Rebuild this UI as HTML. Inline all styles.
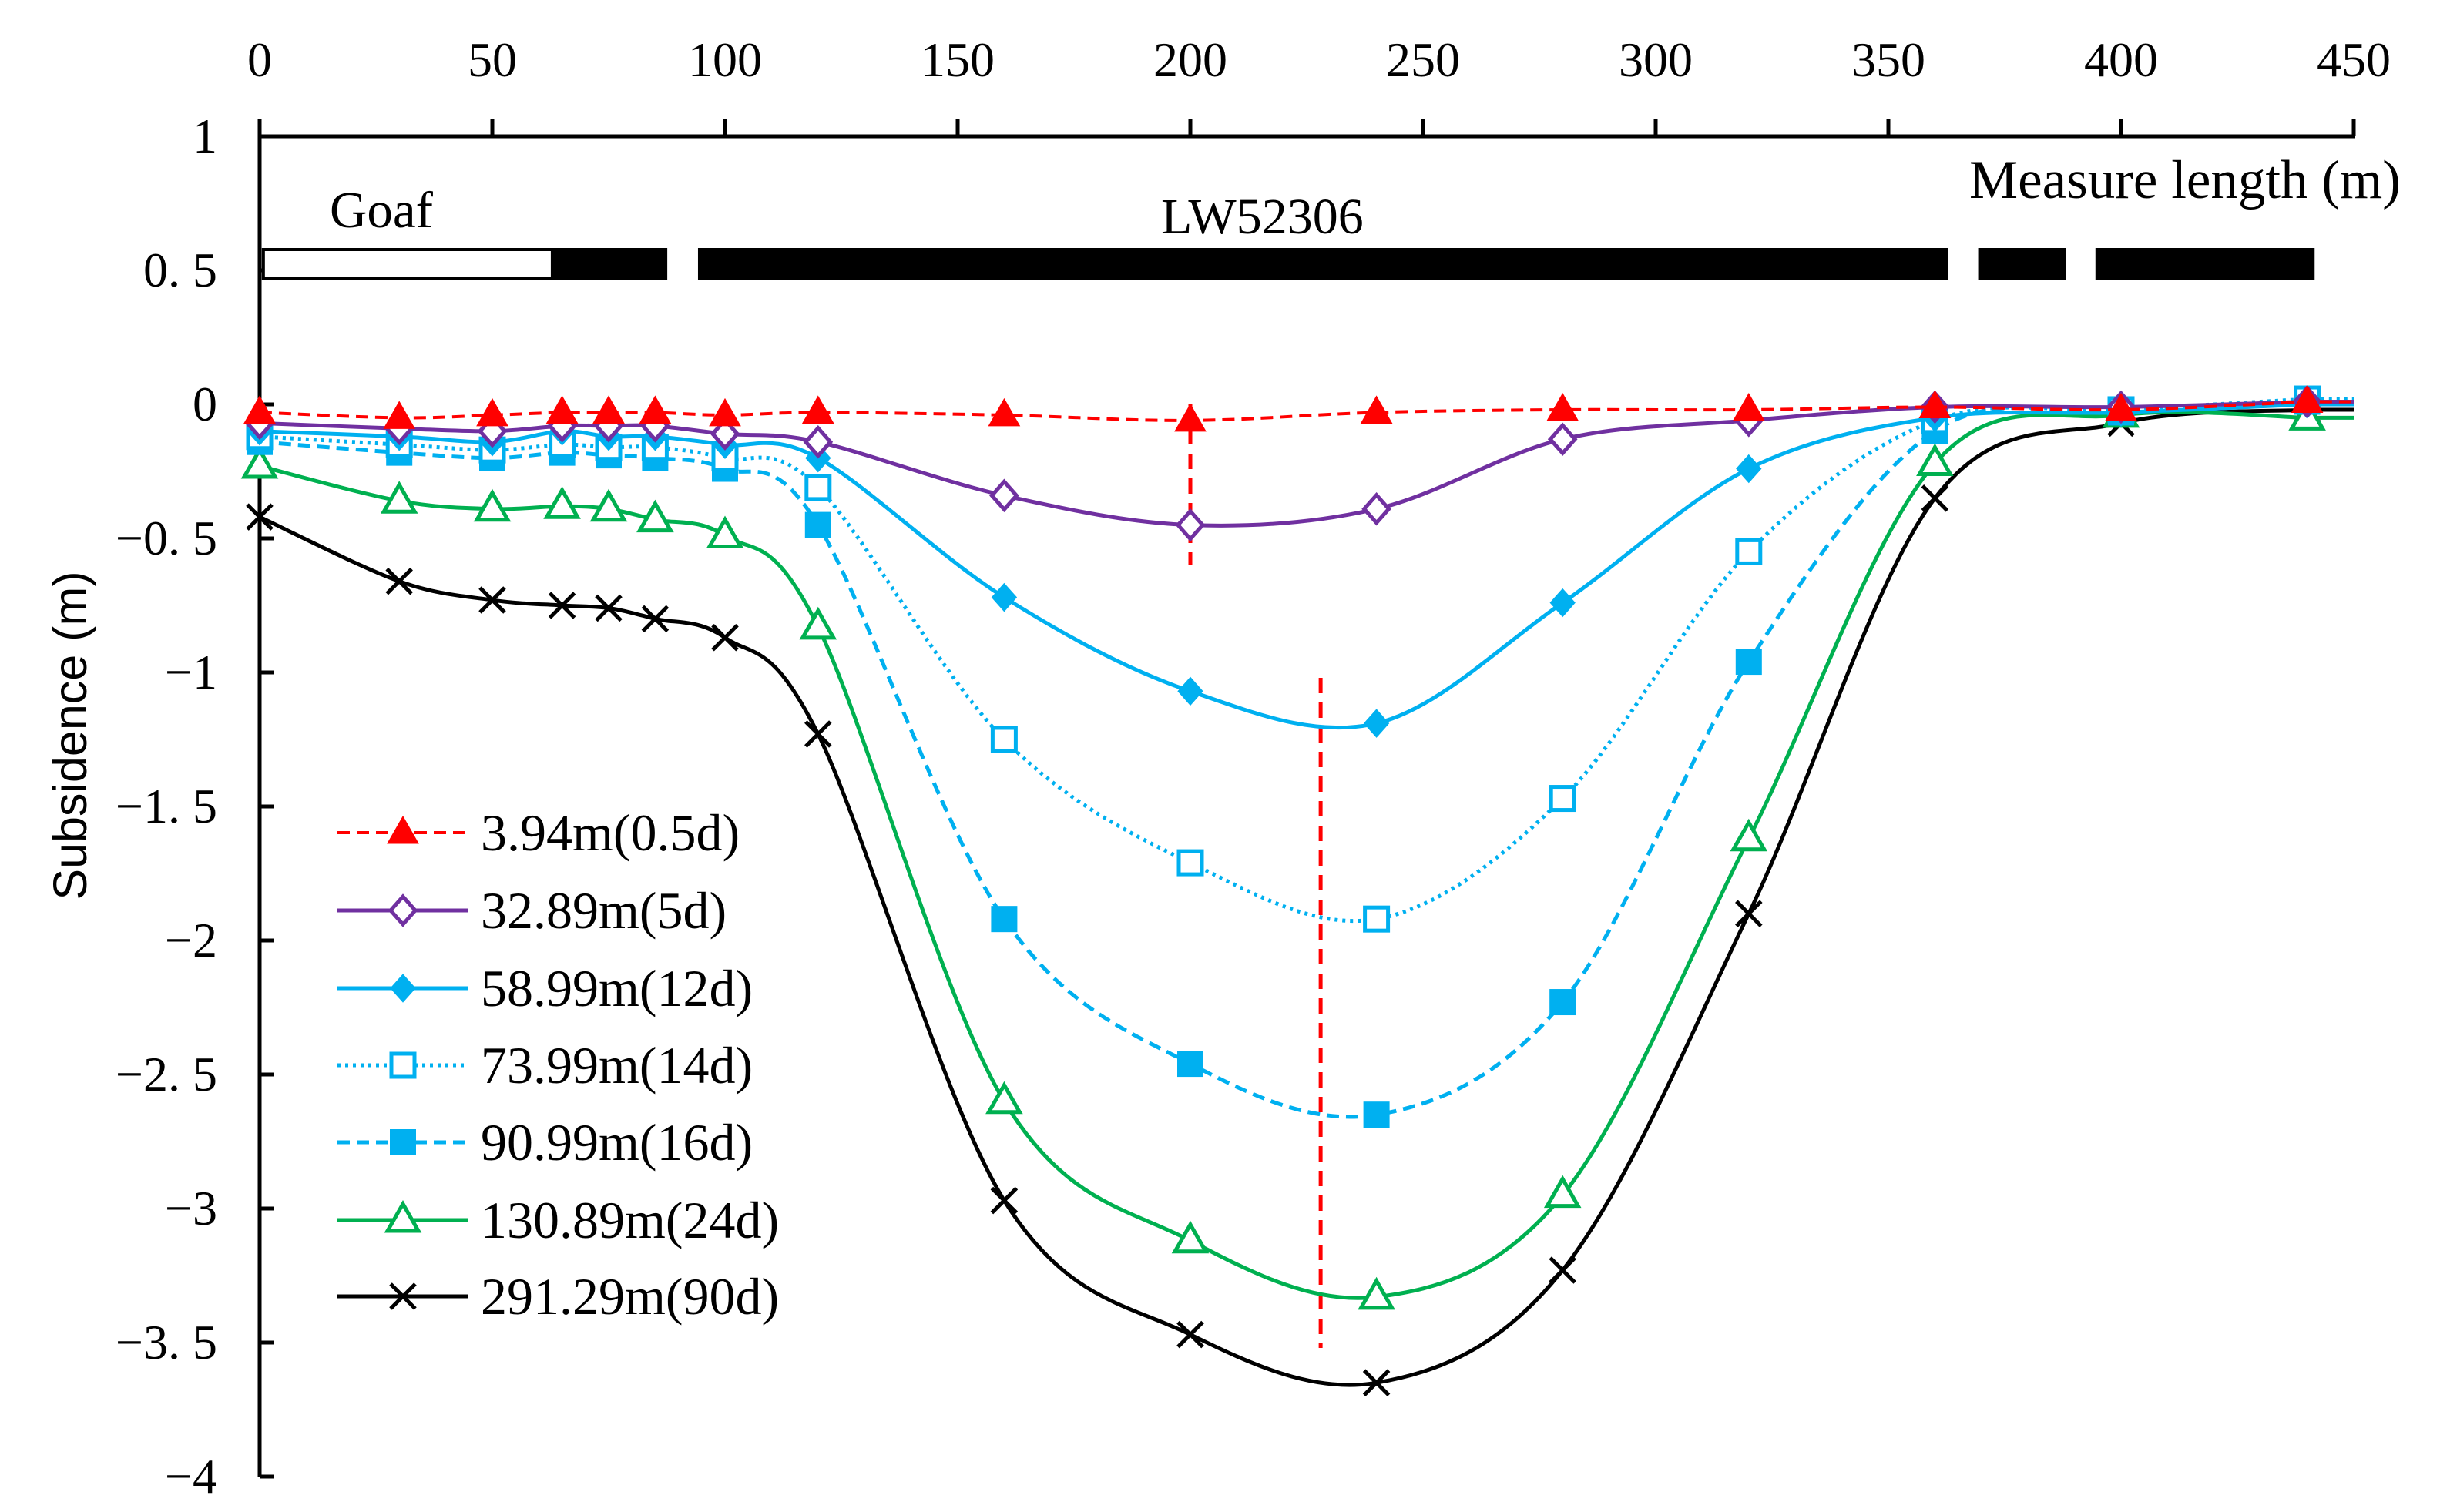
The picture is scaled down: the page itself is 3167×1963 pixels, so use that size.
<!DOCTYPE html>
<html><head><meta charset="utf-8"><style>
html,body{margin:0;padding:0;background:#fff;}
svg{display:block;font-family:"Liberation Serif",serif;}
</style></head><body>
<svg id="chart" width="3167" height="1963" viewBox="0 0 3167 1963" xmlns="http://www.w3.org/2000/svg">
<rect width="3167" height="1963" fill="#fff"/>
<g id="axes"></g>
<g id="bars"></g>
<g id="series"></g>
<g id="legend"></g>
<text x="428" y="295" font-size="67">Goaf</text>
<text x="1507" y="303" font-size="66">LW52306</text>
<text x="2556" y="257" font-size="71">Measure length (m)</text>
<text transform="translate(112,955) rotate(-90)" text-anchor="middle" font-size="61" font-family="Liberation Sans, sans-serif">Subsidence (m)</text>
</svg>
<script>
const xTicks = [0,50,100,150,200,250,300,350,400,450];
const yTicks = [1,0.5,0,-0.5,-1,-1.5,-2,-2.5,-3,-3.5,-4];
const yTickLabels = ["1","0. 5","0","\u22120. 5","\u22121","\u22121. 5","\u22122","\u22122. 5","\u22123","\u22123. 5","\u22124"];
const positions = [0,30,50,65,75,85,100,120,160,200,240,280,320,360,400,440];
const s394 = [-0.03,-0.05,-0.04,-0.03,-0.03,-0.03,-0.04,-0.03,-0.04,-0.06,-0.03,-0.02,-0.02,-0.01,-0.02,0.01];
const s3289 = [-0.07,-0.09,-0.1,-0.08,-0.08,-0.08,-0.11,-0.14,-0.34,-0.45,-0.39,-0.13,-0.06,-0.01,-0.01,0.01];
const s5899 = [-0.1,-0.12,-0.14,-0.1,-0.12,-0.12,-0.15,-0.2,-0.72,-1.07,-1.19,-0.74,-0.24,-0.05,-0.03,0.0];
const s7399 = [-0.12,-0.15,-0.17,-0.15,-0.16,-0.16,-0.2,-0.31,-1.25,-1.71,-1.92,-1.47,-0.55,-0.06,-0.02,0.02];
const s9099 = [-0.14,-0.18,-0.2,-0.18,-0.19,-0.2,-0.24,-0.45,-1.92,-2.46,-2.65,-2.23,-0.96,-0.1,-0.03,0.01];
const s13089 = [-0.23,-0.36,-0.39,-0.38,-0.39,-0.43,-0.49,-0.83,-2.6,-3.12,-3.33,-2.95,-1.62,-0.22,-0.04,-0.05];
const s29129 = [-0.42,-0.66,-0.73,-0.75,-0.76,-0.8,-0.87,-1.23,-2.97,-3.47,-3.65,-3.23,-1.9,-0.35,-0.07,-0.02];
const seriesNames = ["3.94m(0.5d)","32.89m(5d)","58.99m(12d)","73.99m(14d)","90.99m(16d)","130.89m(24d)","291.29m(90d)"];
const panelSegments = [[62.9,87.6],[94.2,362.9],[369.3,388.2],[394.5,441.6]];
const goafSegment = [0.8,62.9];
const maxLines = [[200,0,-0.6],[228,-1.02,-3.52]];

const NS="http://www.w3.org/2000/svg";
const X0=337, XS=(3055-337)/450, Y0=525, YS=348;
const sx=v=>X0+v*XS, sy=v=>Y0-v*YS;
function el(tag,attrs,parent){const e=document.createElementNS(NS,tag);for(const k in attrs)e.setAttribute(k,attrs[k]);parent.appendChild(e);return e;}
const axes=document.getElementById('axes');
let a=el('line',{x1:sx(0),y1:sy(1),x2:sx(0),y2:sy(-4),stroke:'#000','stroke-width':5},axes);


a=el('line',{x1:sx(0)-2,y1:sy(1),x2:sx(450)+2,y2:sy(1),stroke:'#000','stroke-width':5},axes);


xTicks.forEach(v=>{
  const t=el('line',{x1:sx(v),y1:sy(1),x2:sx(v),y2:sy(1)-23,stroke:'#000','stroke-width':5},axes);
  
  
  const l=el('text',{x:sx(v),y:99,'text-anchor':'middle','font-size':64},axes);
  
  
  l.textContent=v;
});
yTicks.forEach((v,i)=>{
  const t=el('line',{x1:sx(0),y1:sy(v),x2:sx(0)+18,y2:sy(v),stroke:'#000','stroke-width':5},axes);
  
  
  const l=el('text',{x:282,y:sy(v)+21,'text-anchor':'end','font-size':64},axes);
  
  
  l.textContent=yTickLabels[i];
});
const bars=document.getElementById('bars');
let g=el('rect',{x:sx(goafSegment[0]),y:324,width:sx(goafSegment[1])-sx(goafSegment[0]),height:38,fill:'#fff',stroke:'#000','stroke-width':4},bars);


panelSegments.forEach(s=>{
  const r=el('rect',{x:sx(s[0]),y:322,width:sx(s[1])-sx(s[0]),height:42,fill:'#000'},bars);
  
  
});
maxLines.forEach(m=>{
  const l=el('line',{x1:sx(m[0]),y1:sy(m[1]),x2:sx(m[0]),y2:sy(m[2]),stroke:'#f00','stroke-width':5,'stroke-dasharray':'20,12'},bars);
  
  
});
const styles=[
 {c:'#FF0000',d:'16,9',m:'tri',f:true,w:4},
 {c:'#7030A0',d:'',m:'dia',f:false,w:5},
 {c:'#00B0F0',d:'',m:'dia',f:true,w:5},
 {c:'#00B0F0',d:'4,6',m:'sq',f:false,w:5},
 {c:'#00B0F0',d:'16,9',m:'sq',f:true,w:5},
 {c:'#00B050',d:'',m:'tri',f:false,w:5},
 {c:'#000000',d:'',m:'x',f:false,w:5}];
const allSeries=[s394,s3289,s5899,s7399,s9099,s13089,s29129];
function smooth(pts){
  let d=`M${pts[0][0]},${pts[0][1]}`;
  for(let i=0;i<pts.length-1;i++){
    const p0=pts[Math.max(0,i-1)],p1=pts[i],p2=pts[i+1],p3=pts[Math.min(pts.length-1,i+2)];
    const c1=[p1[0]+(p2[0]-p0[0])/6,p1[1]+(p2[1]-p0[1])/6];
    const c2=[p2[0]-(p3[0]-p1[0])/6,p2[1]-(p3[1]-p1[1])/6];
    d+=` C${c1[0]},${c1[1]} ${c2[0]},${c2[1]} ${p2[0]},${p2[1]}`;
  }
  return d;
}
function marker(type,filled,color,x,y,parent){
  const fill=filled?color:'#fff';
  if(type==='tri') return el('polygon',{points:`${x},${y-21} ${x+20},${y+14} ${x-20},${y+14}`,fill:fill,stroke:color,'stroke-width':filled?1:5},parent);
  if(type==='dia') return el('polygon',{points:`${x},${y-18} ${x+16},${y} ${x},${y+18} ${x-16},${y}`,fill:fill,stroke:color,'stroke-width':filled?1:5},parent);
  if(type==='sq') return filled?el('rect',{x:x-17,y:y-17,width:34,height:34,fill:color},parent):el('rect',{x:x-15,y:y-15,width:30,height:30,fill:'#fff',stroke:color,'stroke-width':5},parent);
  return el('path',{d:`M${x-16},${y-16}L${x+16},${y+16}M${x+16},${y-16}L${x-16},${y+16}`,stroke:color,'stroke-width':5,fill:'none'},parent);
}
const sg=document.getElementById('series');
for(let k=allSeries.length-1;k>=0;k--){
  const s=styles[k], vals=allSeries[k];
  const grp=el('g',{},sg);
  
  
  const pts=positions.map((p,i)=>[sx(p),sy(vals[i])]);
  const path=el('path',{d:smooth(pts)+` L${sx(450)},${pts[pts.length-1][1]}`,fill:'none',stroke:s.c,'stroke-width':s.w,'stroke-dasharray':s.d},grp);
  
  
  pts.forEach(p=>{
    const m=marker(s.m,s.f,s.c,p[0],p[1],grp);
    
    
  });
}
const lg=document.getElementById('legend');
const rows=[1081,1182,1283,1383,1483,1584,1683];
seriesNames.forEach((n,k)=>{
  const s=styles[k], y=rows[k];
  const e=el('g',{},lg);
  
  
  el('line',{x1:438,y1:y,x2:607,y2:y,stroke:s.c,'stroke-width':s.w,'stroke-dasharray':s.d},e);
  marker(s.m,s.f,s.c,523,y,e);
  const t=el('text',{x:624,y:y+23,'font-size':68},e);
  t.textContent=n;
});
</script>
</body></html>
